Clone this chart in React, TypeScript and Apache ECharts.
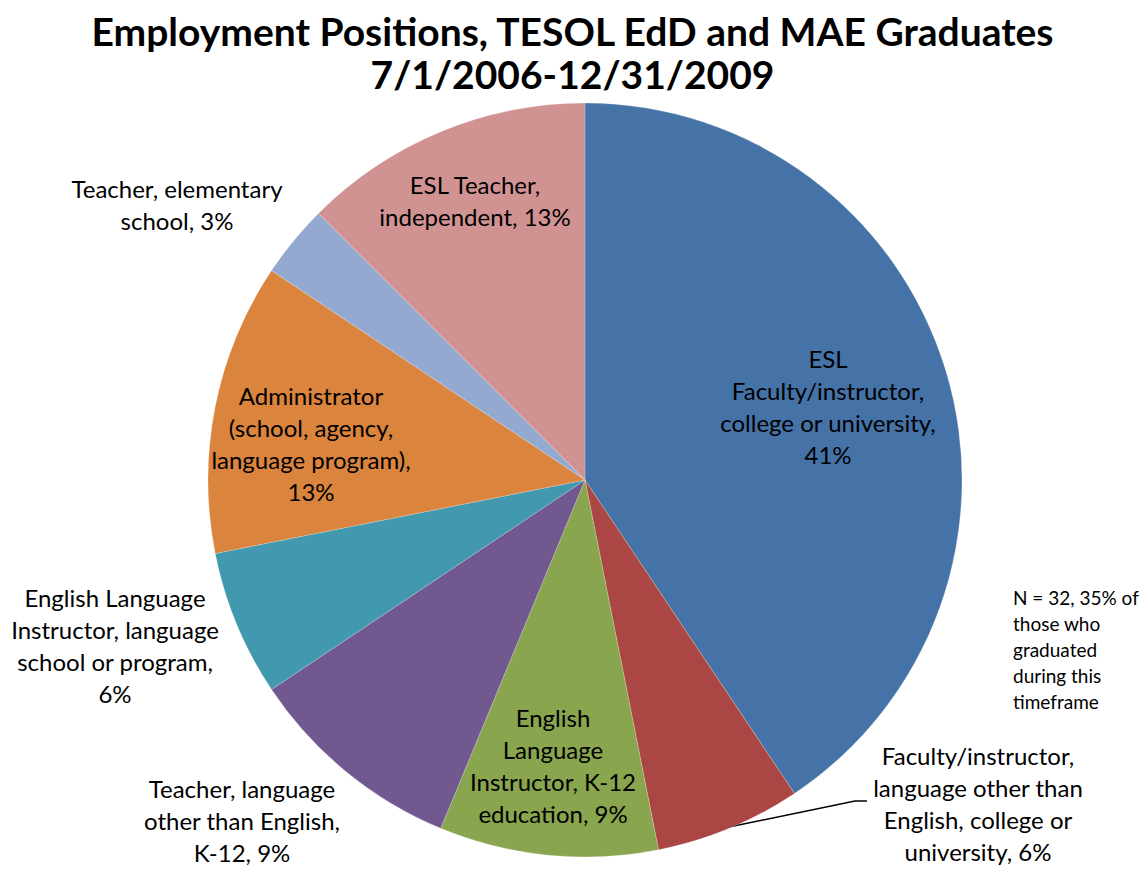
import React, { useEffect, useRef } from "react";
import * as echarts from "echarts";

const categories = [
  "ESL Faculty/instructor, college or university",
  "Faculty/instructor, language other than English, college or university",
  "English Language Instructor, K-12 education",
  "Teacher, language other than English, K-12",
  "English Language Instructor, language school or program",
  "Administrator (school, agency, language program)",
  "Teacher, elementary school",
  "ESL Teacher, independent",
];
const counts = [13, 2, 3, 3, 2, 4, 1, 4];
const wrappedLabels = [
  "ESL\nFaculty/instructor,\ncollege or university,\n",
  "Faculty/instructor,\nlanguage other than\nEnglish, college or\nuniversity, ",
  "English\nLanguage\nInstructor, K-12\neducation, ",
  "Teacher, language\nother than English,\nK-12, ",
  "English Language\nInstructor, language\nschool or program,\n",
  "Administrator\n(school, agency,\nlanguage program),\n",
  "Teacher, elementary\nschool, ",
  "ESL Teacher,\nindependent, ",
];
const colors = ["#4572A7", "#AA4643", "#89A54E", "#71588F", "#4198AF", "#DB843D", "#93A9CF", "#D19392"];
const labelCenters: [number, number][] = [
  [828, 406],
  [978, 803],
  [553, 765],
  [242, 820],
  [115, 645],
  [311, 443],
  [177, 204],
  [475, 200],
];
const titleText = "Employment Positions, TESOL EdD and MAE Graduates\n7/1/2006-12/31/2009";
const noteText = "N = 32, 35% of\nthose who\ngraduated\nduring this\ntimeframe";

const FONT = "Lato";

export default function App() {
  const ref = useRef<HTMLDivElement>(null);
  useEffect(() => {
    if (!ref.current) return;
    const chart = echarts.init(ref.current, null, { renderer: "svg" });
    chart.setOption({
      animation: false,
      backgroundColor: "#fff",
      title: {
        text: titleText,
        left: "center",
        top: 4,
        textStyle: { fontFamily: FONT, fontSize: 39, fontWeight: "bold", color: "#000", lineHeight: 43 },
      },
      graphic: [
        {
          type: "text",
          left: 1013,
          top: 584,
          style: { text: noteText, fontFamily: FONT, fontSize: 19, lineHeight: 26, fill: "#000" },
        },
        {
          type: "polyline",
          shape: { points: [[729, 827], [855, 801], [867, 801]] },
          style: { stroke: "#000", lineWidth: 1.5, fill: "none" },
        },
      ],
      series: [
        {
          type: "pie",
          center: [585, 480],
          radius: 377,
          startAngle: 90,
          clockwise: true,
          avoidLabelOverlap: false,
          percentPrecision: 0,
          itemStyle: { borderColor: "rgba(255,255,255,0.4)", borderWidth: 0.5 },
          label: {
            show: true,
            position: "inside",
            color: "#000",
            fontFamily: FONT,
            fontSize: 24,
            lineHeight: 32,
            align: "center",
            textBorderWidth: 0,
            formatter: (p: any) => wrappedLabels[p.dataIndex] + p.percent + "%",
          },
          labelLine: { show: false },
          labelLayout: (p: any) => ({
            x: labelCenters[p.dataIndex][0],
            y: labelCenters[p.dataIndex][1],
            align: "center",
            verticalAlign: "middle",
          }),
          data: categories.map((name, i) => ({
            name,
            value: counts[i],
            itemStyle: { color: colors[i] },
          })),
        },
      ],
    });
    return () => chart.dispose();
  }, []);
  return <div ref={ref} style={{ position: "fixed", left: 0, top: 0, width: 1145, height: 869 }} />;
}
